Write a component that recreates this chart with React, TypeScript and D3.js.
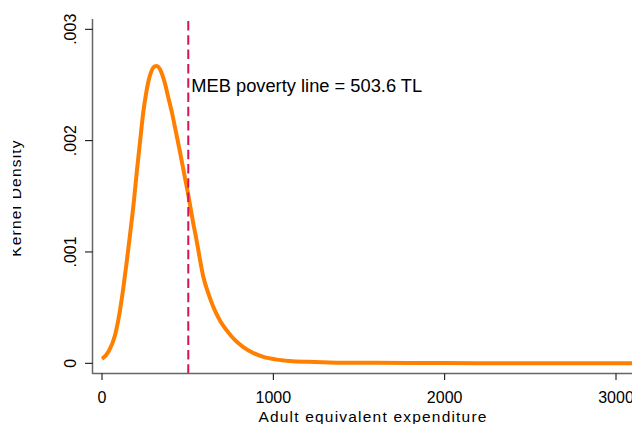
import React from "react";
import * as d3 from "d3";

const expenditure = [0, 2, 40, 76, 100, 124, 145, 163, 185, 203, 222, 241, 257, 270, 290, 305, 319, 335, 350, 368, 385, 407, 430, 455, 480, 504, 530, 553, 572, 591, 620, 650, 690, 728, 775, 825, 880, 942, 1020, 1097, 1200, 1370, 1600, 1800, 2000, 2400, 2800, 3300];
const density = [0.00004, 0.000042, 0.00011, 0.000252, 0.00043, 0.000671, 0.00092, 0.00115, 0.00144, 0.001718, 0.00199, 0.002257, 0.00242, 0.002527, 0.00263, 0.002665, 0.00267, 0.00265, 0.0026, 0.00251, 0.0024, 0.00226, 0.00209, 0.0019, 0.0017, 0.001509, 0.00128, 0.001096, 0.00093, 0.00078, 0.00063, 0.000506, 0.00038, 0.000296, 0.00021, 0.000146, 0.000095, 0.000057, 0.000033, 0.000021, 0.000013, 0.000006, 0.000004, 0.000003, 0.000002, 0.000001, 0.0000005, 0.0000003];
const xTicks = [0, 1000, 2000, 3000];
const yTicks = [0, 0.001, 0.002, 0.003];
const yTickLabels = ["0", ".001", ".002", ".003"];
const povertyLine = 503.6;
const povertyLabel = "MEB poverty line = 503.6 TL";
const xTitle = "Adult equivalent expenditure";
const yTitle = "Kernel Density";

export default function App() {
  const W = 632, H = 424;
  const x = d3.scaleLinear().domain([0, 3000]).range([102, 616]);
  const y = d3.scaleLinear().domain([0, 0.003]).range([363.3, 29.3]);
  const axisX = 92.5, axisY = 373.5, axisTop = 19;
  const pts = expenditure.map((e, i) => [e, density[i]] as [number, number]);
  const line = d3.line<[number, number]>().x(d => x(d[0])).y(d => y(d[1])).curve(d3.curveMonotoneX);
  const font = "Arial, 'Liberation Sans', Helvetica, sans-serif";
  const axisColor = "#666";
  return (
    <svg width={W} height={H} style={{ position: "absolute", left: 0, top: 0, background: "#fff" }} fontFamily={font}>
      <defs>
        <clipPath id="ytclip"><rect x={13} y={0} width={40} height={H} /></clipPath>
        <clipPath id="plotclip"><rect x={axisX} y={0} width={W} height={axisY} /></clipPath>
      </defs>
      <rect x={0} y={0} width={W} height={H} fill="#fff" />
      <path d={line(pts) || ""} fill="none" stroke="#ff8000" strokeWidth={4} strokeLinejoin="round" clipPath="url(#plotclip)" />
      <line x1={x(povertyLine)} x2={x(povertyLine)} y1={21} y2={axisY} stroke="#d4145a" strokeWidth={2} strokeDasharray="9.5,4.8" />
      <text x={x(povertyLine) + 3} y={92} fontSize={18.3} fill="#000">{povertyLabel}</text>
      <line x1={axisX} x2={axisX} y1={axisTop} y2={axisY + 0.5} stroke={axisColor} strokeWidth={1.5} />
      <line x1={axisX} x2={W} y1={axisY} y2={axisY} stroke={axisColor} strokeWidth={1.5} />
      {yTicks.map((t, i) => (
        <g key={"y" + i}>
          <line x1={85} x2={axisX} y1={y(t)} y2={y(t)} stroke="#000" strokeWidth={1} />
          <text transform={`translate(76,${y(t)}) rotate(-90)`} textAnchor="middle" fontSize={16} fill="#000">{yTickLabels[i]}</text>
        </g>
      ))}
      {xTicks.map((t, i) => (
        <g key={"x" + i}>
          <line x1={x(t)} x2={x(t)} y1={axisY} y2={380} stroke="#000" strokeWidth={1} />
          <text x={x(t)} y={403} textAnchor="middle" fontSize={16} fill="#000">{t}</text>
        </g>
      ))}
      <text x={373} y={421.5} textAnchor="middle" fontSize={15.5} letterSpacing={1.2} fill="#000">{xTitle}</text>
      <g clipPath="url(#ytclip)">
        <text transform="translate(20.5,198) rotate(-90)" textAnchor="middle" fontSize={15.5} letterSpacing={1.2} fill="#000">{yTitle}</text>
      </g>
    </svg>
  );
}
